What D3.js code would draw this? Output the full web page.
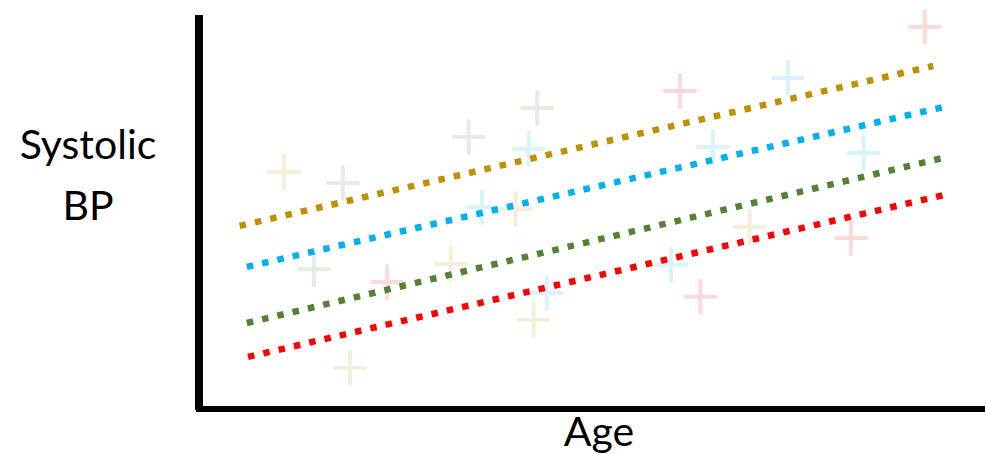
<!DOCTYPE html>
<html><head><meta charset="utf-8">
<script src="https://cdn.jsdelivr.net/npm/d3@7"></script>
<style>body{margin:0;background:#fff}svg{display:block}</style>
</head><body>
<svg id="c" width="986" height="454"></svg>
<script>
// Data (Age in years, Systolic BP in mmHg - illustrative)
const groups = ["gold", "blue", "green", "red"];
const groupColors = ["#BF9000", "#00B0F0", "#548235", "#FF0000"];
// regression lines: [ageStart, bpStart, ageEnd, bpEnd]
const lineGold  = [23.3, 136.7, 81.1, 177.7];
const lineBlue  = [23.9, 126.2, 82.3, 167.4];
const lineGreen = [23.9, 111.8, 82.3, 154.4];
const lineRed   = [24.0, 103.1, 82.4, 144.9];
// scatter points [age, bp]
const pointsGold  = [[27.0,150.5],[46.3,141.0],[40.9,126.9],[47.8,112.6],[32.5,100.3],[65.8,136.4]];
const pointsBlue  = [[47.4,156.4],[43.5,141.5],[69.0,174.6],[62.75,156.9],[75.3,155.4],[48.9,119.5],[59.25,126.7]];
const pointsGreen = [[31.9,147.7],[42.4,159.5],[48.1,166.9],[29.5,125.6]];
const pointsRed   = [[80.4,187.7],[60.0,171.3],[35.6,122.3],[61.7,118.5],[74.25,133.6]];
const yLabelLines = ["Systolic", "BP"];
const xLabel = "Age";

const lines = [lineGold, lineBlue, lineGreen, lineRed];
const points = [pointsGold, pointsBlue, pointsGreen, pointsRed];

const svg = d3.select("#c");
const x = d3.scaleLinear().domain([20, 85]).range([200, 980]);
const y = d3.scaleLinear().domain([90, 190]).range([408, 18]);

// scatter markers (faded crosses)
points.forEach((pts, gi) => {
  const faded = d3.interpolateRgb("#ffffff", groupColors[gi])(0.15);
  const g = svg.append("g")
    .attr("stroke", faded)
    .attr("stroke-width", 4)
    .attr("stroke-linecap", "round");
  pts.forEach(p => {
    const cx = x(p[0]), cy = y(p[1]);
    g.append("line").attr("x1", cx - 15).attr("x2", cx + 15).attr("y1", cy).attr("y2", cy);
    g.append("line").attr("x1", cx).attr("x2", cx).attr("y1", cy - 16).attr("y2", cy + 16);
  });
});

// dotted regression lines
const lineGen = d3.line().x(d => x(d[0])).y(d => y(d[1]));
lines.forEach((l, gi) => {
  svg.append("path")
    .attr("d", lineGen([[l[0], l[1]], [l[2], l[3]]]))
    .attr("fill", "none")
    .attr("stroke", groupColors[gi])
    .attr("stroke-width", 6.5)
    .attr("stroke-dasharray", "6.5 9.2");
});

// axes (thick black lines)
const yAxis = d3.axisLeft(y).tickValues([]).tickSizeOuter(0);
const xAxis = d3.axisBottom(x).tickValues([]).tickSizeOuter(0);
svg.append("g").attr("transform", "translate(199,0)").call(yAxis)
  .select(".domain").attr("stroke", "#000").attr("stroke-width", 8)
  .attr("d", `M0,${15}V${410}`);
svg.append("g").attr("transform", "translate(0,409)").call(xAxis)
  .select(".domain").attr("stroke", "#000").attr("stroke-width", 6)
  .attr("d", `M196,0H985`);

// labels
const font = "Lato, 'Open Sans', sans-serif";
svg.append("text").attr("x", 88).attr("y", 159).attr("text-anchor", "middle")
  .attr("font-family", font).attr("font-size", 41).attr("fill", "#000")
  .text(yLabelLines[0]);
svg.append("text").attr("x", 88).attr("y", 220).attr("text-anchor", "middle")
  .attr("font-family", font).attr("font-size", 41).attr("fill", "#000")
  .text(yLabelLines[1]);
svg.append("text").attr("x", 599).attr("y", 446).attr("text-anchor", "middle")
  .attr("font-family", font).attr("font-size", 41).attr("fill", "#000")
  .text(xLabel);
</script>
</body></html>
